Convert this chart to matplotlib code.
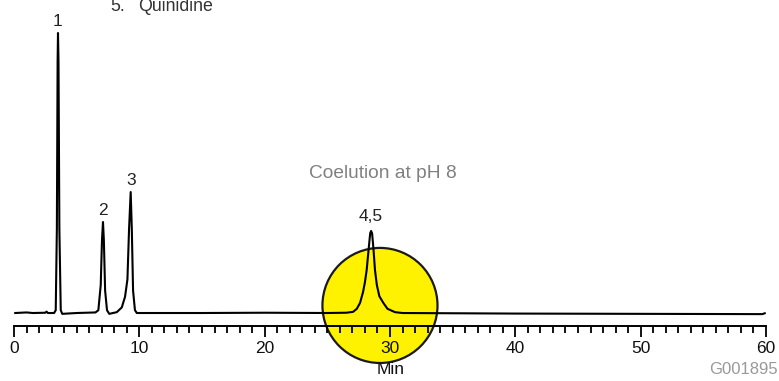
"""
Chromatogram at pH 8 with the coeluting pair highlighted
"""

import matplotlib.pyplot as plt
from matplotlib.patches import Ellipse
from matplotlib.ticker import MultipleLocator

plt.rcParams['font.family'] = ['Liberation Sans', 'DejaVu Sans']

# detector trace (time in min, signal in relative units, peak 1 = 100)
trace_time = [0.10, 1.0, 1.5, 2.5, 2.6, 2.7, 3.2, 3.33, 3.42, 3.48, 3.51, 3.55, 3.62,
              3.73, 3.85, 5.0, 6.5, 6.73, 6.92, 7.02, 7.10, 7.17, 7.27, 7.42, 7.6,
              8.2, 8.6, 8.86, 9.05, 9.18, 9.31, 9.40, 9.50, 9.65, 9.8, 15.0, 20.0,
              25.0, 26.5, 27.05, 27.35, 27.61, 27.85, 28.0, 28.14, 28.3, 28.42, 28.49,
              28.57, 28.68, 28.80, 28.95, 29.15, 29.47, 29.8, 30.4, 31.0, 40.0, 50.0,
              59.7, 59.9]
trace_signal = [0.0, 0.2, 0.0, 0.1, 0.5, 0.0, 0.0, 1.0, 30.0, 90.0, 100.0, 90.0, 30.0,
                1.0, -0.3, 0.0, 0.2, 1.0, 10.0, 26.0, 32.5, 26.0, 8.0, 1.0, -0.3,
                0.3, 2.0, 5.8, 12.0, 30.0, 43.2, 30.0, 8.0, 1.0, 0.0, 0.0, 0.1,
                0.0, 0.1, 0.4, 1.5, 3.6, 7.5, 11.0, 15.4, 23.0, 28.5, 29.3,
                28.5, 23.0, 15.4, 10.0, 6.0, 3.6, 1.5, 0.3, 0.0, -0.2, -0.3,
                -0.4, -0.1]

# peak annotations
peak_labels = ['1', '2', '3', '4,5']
peak_times = [3.51, 7.10, 9.31, 28.49]
peak_heights = [100.0, 32.5, 43.2, 29.3]
label_offsets = [2.5, 2.4, 2.4, 3.6]

# highlighted region around the coeluting peaks
highlight_center = (29.2, 2.7)
highlight_size = (9.18, 41.1)

fig = plt.figure(figsize=(7.79, 3.81), dpi=100)
ax = fig.add_axes([14 / 779, 55 / 381, 752 / 779, 326 / 381])

ax.add_patch(Ellipse(highlight_center, highlight_size[0], highlight_size[1],
                     facecolor='#fff200', edgecolor='#1a1a1a', linewidth=1.6,
                     clip_on=False, zorder=1))

ax.plot(trace_time, trace_signal, color='black', linewidth=1.5,
        solid_joinstyle='round', zorder=3)

for lbl, t, h, off in zip(peak_labels, peak_times, peak_heights, label_offsets):
    ax.text(t, h + off, lbl, ha='center', va='baseline', fontsize=12.5,
            color='#222222')

ax.text(29.44, 48.1, 'Coelution at pH 8', ha='center', va='baseline',
        fontsize=13.8, color='#808080')

ax.set_xlim(0, 60)
ax.set_ylim(-4.64, 111.79)

for side in ['top', 'right', 'left']:
    ax.spines[side].set_visible(False)
ax.spines['bottom'].set_linewidth(1.4)
ax.spines['bottom'].set_zorder(4)

ax.xaxis.set_major_locator(MultipleLocator(10))
ax.xaxis.set_minor_locator(MultipleLocator(1))
ax.tick_params(axis='x', which='major', direction='out', length=8, width=1.3,
               pad=3, labelsize=12.5, labelcolor='#111111')
ax.tick_params(axis='x', which='minor', direction='out', length=4.8, width=1.3)
ax.set_yticks([])
ax.set_facecolor('none')

fig.text(391 / 779, 1 - 370 / 381, 'Min', ha='center', va='center',
         fontsize=12.5, color='#111111')
fig.text(778 / 779, 1 - 370 / 381, 'G001895', ha='right', va='center',
         fontsize=12, color='#999999')
fig.text(110 / 779, 1 - 11 / 381, '5.', ha='left', va='baseline',
         fontsize=12.8, color='#333333')
fig.text(138 / 779, 1 - 11 / 381, 'Quinidine', ha='left', va='baseline',
         fontsize=12.8, color='#333333')

fig.savefig('out.png', dpi=100)
plt.close(fig)
